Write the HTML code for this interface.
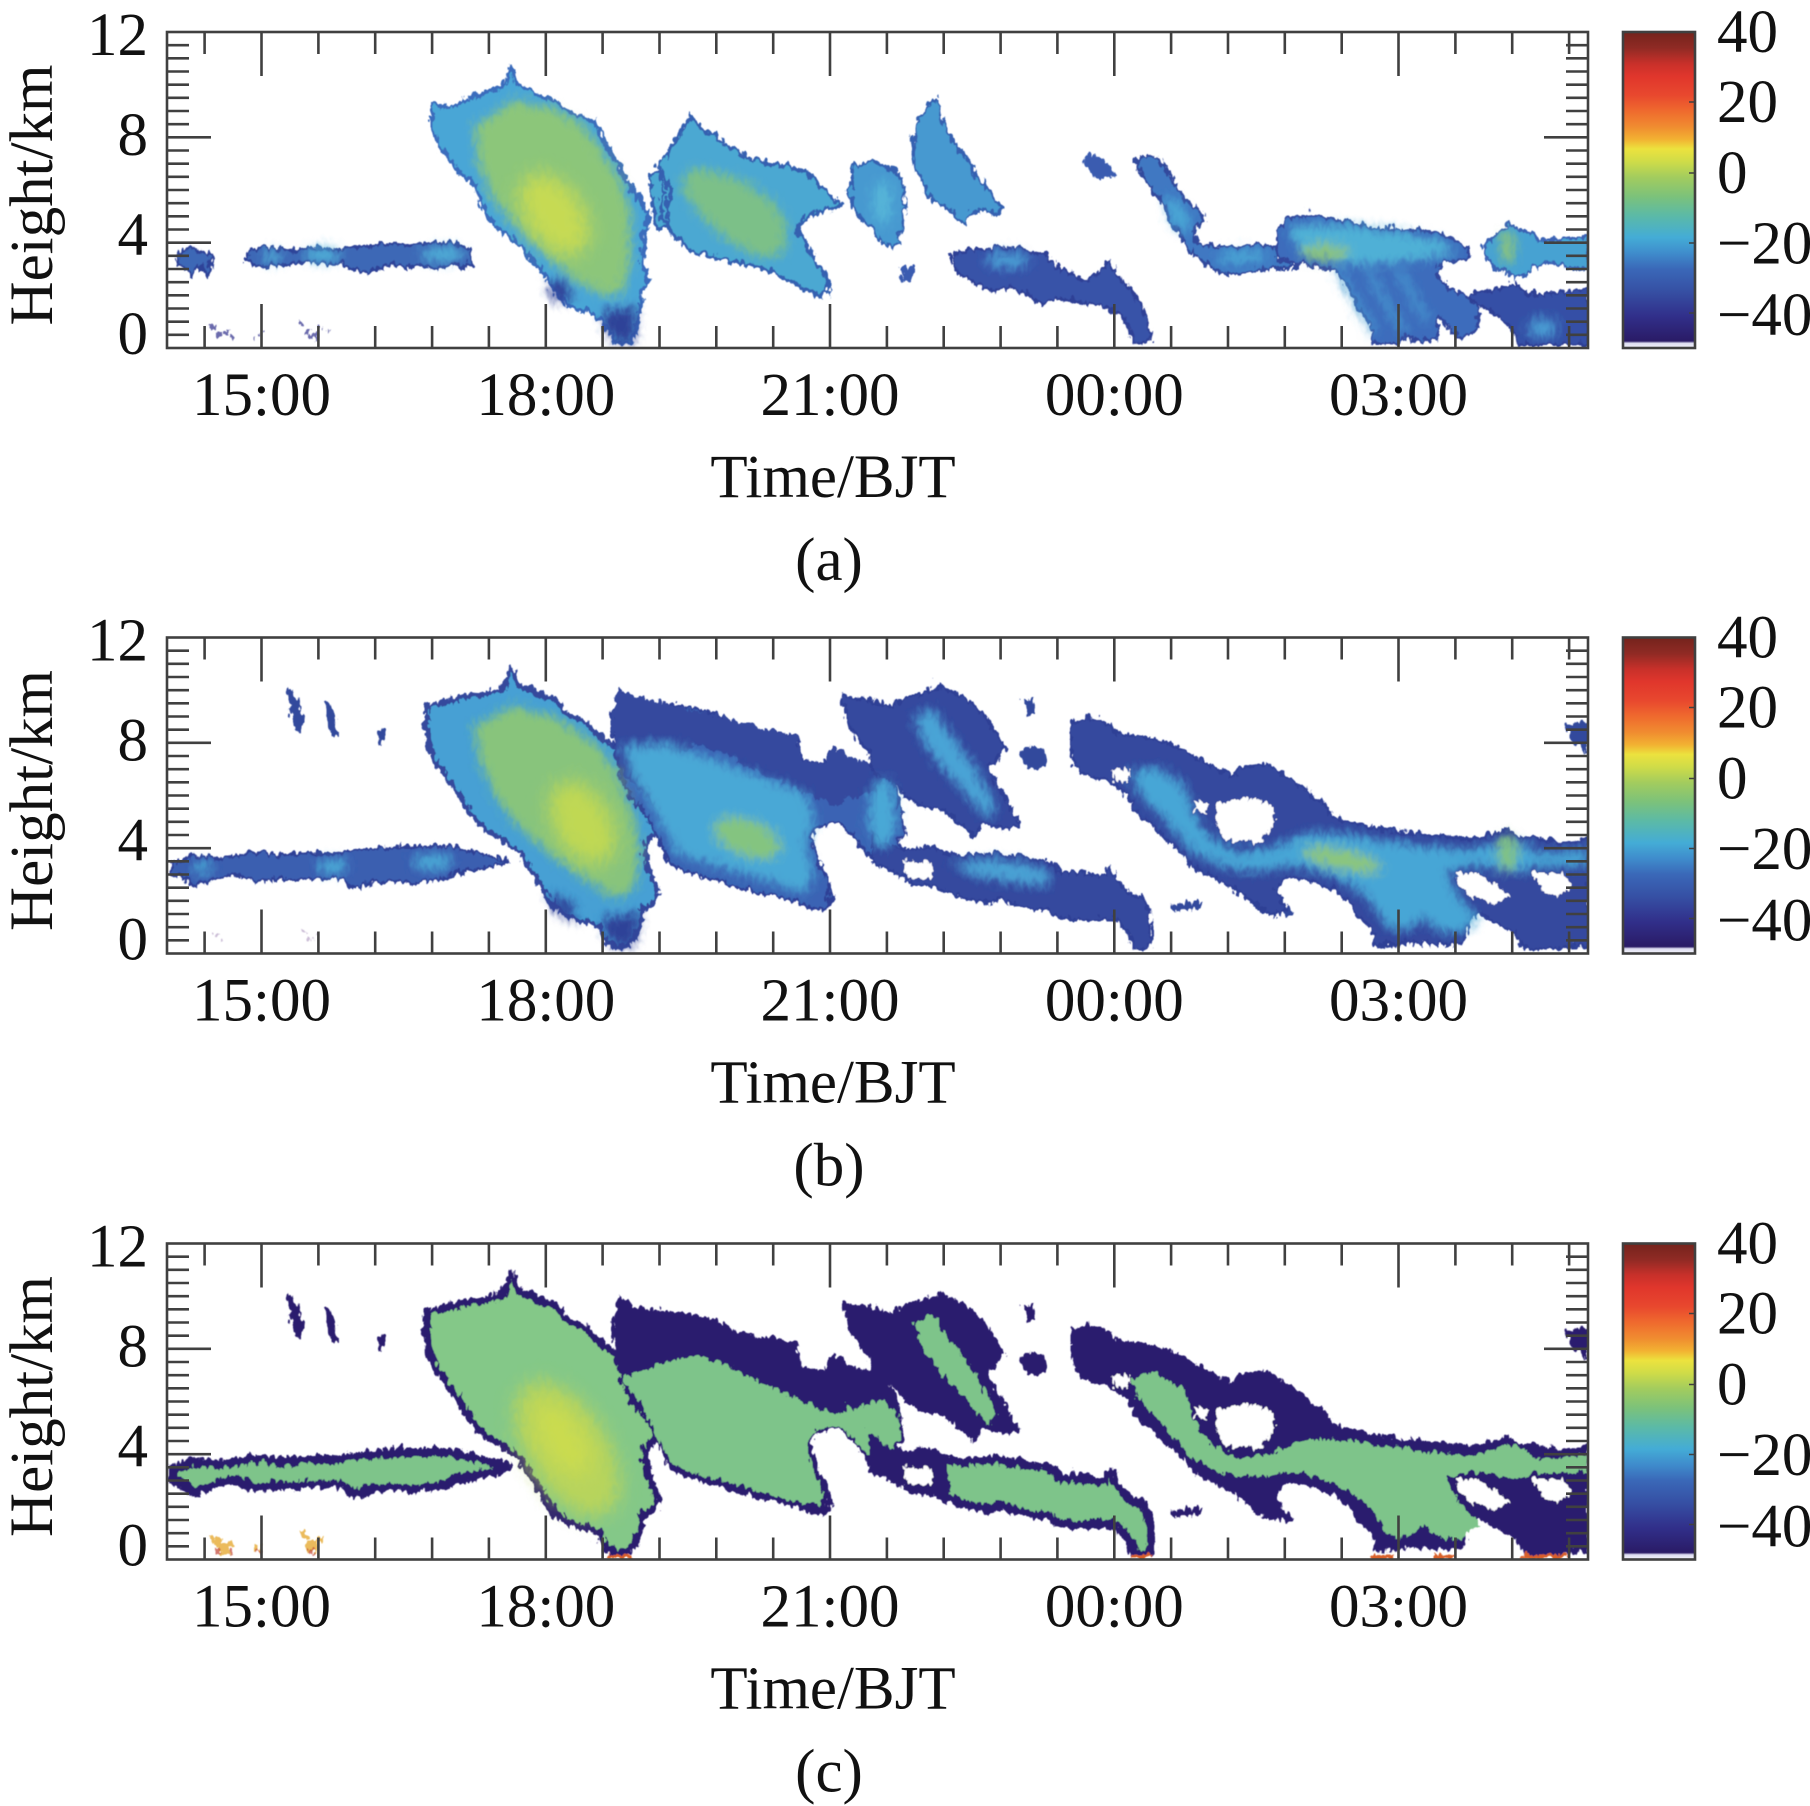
<!DOCTYPE html>
<html><head><meta charset="utf-8"><style>html,body{margin:0;padding:0;background:#fff}svg{display:block}</style></head>
<body>
<svg xmlns="http://www.w3.org/2000/svg" width="1810" height="1806" viewBox="0 0 1810 1806">
<defs>
<linearGradient id="cb" x1="0" y1="0" x2="0" y2="1">
<stop offset="0" stop-color="#74231c"/><stop offset="0.05" stop-color="#8f2a24"/><stop offset="0.1" stop-color="#c8302a"/>
<stop offset="0.14" stop-color="#e0362c"/><stop offset="0.2" stop-color="#e8482e"/><stop offset="0.25" stop-color="#ef6a2e"/>
<stop offset="0.3" stop-color="#f08c30"/><stop offset="0.34" stop-color="#f2b232"/><stop offset="0.37" stop-color="#ece23e"/>
<stop offset="0.41" stop-color="#cfdc48"/><stop offset="0.46" stop-color="#a2cc5e"/><stop offset="0.52" stop-color="#7cc27a"/>
<stop offset="0.58" stop-color="#5cbaa6"/><stop offset="0.65" stop-color="#44acd6"/><stop offset="0.7" stop-color="#3f8ccc"/>
<stop offset="0.75" stop-color="#3a68b8"/><stop offset="0.82" stop-color="#3650a4"/><stop offset="0.9" stop-color="#312f8a"/>
<stop offset="0.978" stop-color="#2a1b66"/><stop offset="0.985" stop-color="#dcdcf0"/><stop offset="1" stop-color="#f4f4fa"/>
</linearGradient>
<filter id="b1" x="-5%" y="-5%" width="110%" height="110%"><feGaussianBlur stdDeviation="1.1"/></filter>
<filter id="rag" x="-3%" y="-8%" width="106%" height="116%"><feTurbulence type="turbulence" baseFrequency="0.13 0.07" numOctaves="2" seed="4" result="t"/><feDisplacementMap in="SourceGraphic" in2="t" scale="10" xChannelSelector="R" yChannelSelector="G"/><feGaussianBlur stdDeviation="0.6"/></filter>
<filter id="b5" x="-40%" y="-40%" width="180%" height="180%"><feGaussianBlur stdDeviation="5"/></filter>
<filter id="b9" x="-50%" y="-50%" width="200%" height="200%"><feGaussianBlur stdDeviation="9"/></filter>
<clipPath id="clip"><rect x="168" y="33" width="1419" height="314"/></clipPath>

<g id="frame" fill="none" stroke="#404040" stroke-width="2.6">
<rect x="167" y="32" width="1421" height="316"/>
<path d="M204.6,32v22M318.4,32v22M375.2,32v22M432.1,32v22M488.9,32v22M602.6,32v22M659.5,32v22M716.3,32v22M773.2,32v22M886.9,32v22M943.7,32v22M1000.6,32v22M1057.4,32v22M1171.1,32v22M1228,32v22M1284.8,32v22M1341.7,32v22M1455.4,32v22M1512.2,32v22M1569.1,32v22M261.5,32v44M545.8,32v44M830,32v44M1114.3,32v44M1398.5,32v44"/>
<path d="M204.6,348v-22M318.4,348v-22M375.2,348v-22M432.1,348v-22M488.9,348v-22M602.6,348v-22M659.5,348v-22M716.3,348v-22M773.2,348v-22M886.9,348v-22M943.7,348v-22M1000.6,348v-22M1057.4,348v-22M1171.1,348v-22M1228,348v-22M1284.8,348v-22M1341.7,348v-22M1455.4,348v-22M1512.2,348v-22M1569.1,348v-22M261.5,348v-44M545.8,348v-44M830,348v-44M1114.3,348v-44M1398.5,348v-44"/>
<path d="M167,334.8h22M167,321.7h22M167,308.5h22M167,295.3h22M167,282.2h22M167,269h22M167,255.8h22M167,242.7h44M167,229.5h22M167,216.3h22M167,203.2h22M167,190h22M167,176.8h22M167,163.7h22M167,150.5h22M167,137.3h44M167,124.2h22M167,111h22M167,97.8h22M167,84.7h22M167,71.5h22M167,58.3h22M167,45.2h22"/>
<path d="M1588,334.8h-22M1588,321.7h-22M1588,308.5h-22M1588,295.3h-22M1588,282.2h-22M1588,269h-22M1588,255.8h-22M1588,242.7h-44M1588,229.5h-22M1588,216.3h-22M1588,203.2h-22M1588,190h-22M1588,176.8h-22M1588,163.7h-22M1588,150.5h-22M1588,137.3h-44M1588,124.2h-22M1588,111h-22M1588,97.8h-22M1588,84.7h-22M1588,71.5h-22M1588,58.3h-22M1588,45.2h-22"/>
<rect x="1623" y="32" width="72" height="316" fill="url(#cb)"/>
<path d="M1689,102h6M1689,173h6M1689,243h6M1689,313h6" stroke-width="1.5"/>
</g>

<path id="bLow" d="M169,255 L188,248 215,250 252,245 279,248 312,245 335,245 358,241 380,240 403,238 436,238 459,241 481,246 504,253 491,258 472,261 454,266 436,271 413,275 390,273 367,275 353,280 339,271 321,270 298,271 275,271 252,273 229,265 206,273 192,278 183,271 169,265Z"/>
<path id="bUp" d="M284,82 L290,80 296,95 302,110 300,125 292,122 288,100Z M322,97 L328,95 333,110 336,127 330,128 324,115Z M373,122 L382,120 384,135 376,136Z M1018,142 L1030,136 1042,145 1044,158 1030,162 1020,155Z M1021,92 L1029,90 1032,105 1024,108Z M1168,296 L1201,294 1200,301 1170,302Z M1247,290 L1265,288 1280,296 1292,305 1285,308 1265,302 1250,298Z M1565,118 L1575,113 1586,115 1586,148 1578,140 1568,130Z"/>
<path id="bMain" d="M424,98 L454,91 481,86 500,81 509,58 516,78 537,86 553,91 564,105 583,115 601,131 615,141 619,158 638,185 651,205 656,221 647,228 642,245 647,265 656,288 651,295 638,301 638,315 628,335 615,340 605,335 596,318 573,311 564,308 555,301 546,291 532,265 518,245 500,231 481,221 472,211 463,198 454,181 445,171 436,158 426,138 424,118Z"/>
<path id="b4a" d="M612,135 L610,108 619,83 633,93 665,96 693,100 720,110 743,121 771,123 794,128 798,151 821,155 830,141 849,151 880,161 888,171 898,198 902,225 893,245 880,255 863,245 849,225 835,215 812,218 808,231 817,255 826,275 830,291 821,301 803,298 785,291 757,285 711,271 688,265 670,258 661,245 654,225 642,205 628,188 617,165Z"/>
<path id="b4aDark" d="M610,108 L619,83 665,96 720,110 771,123 794,128 798,151 821,155 830,141 880,161 880,181 849,191 830,198 794,181 757,165 725,148 693,135 674,148 665,171 656,205 638,185 619,165 612,135Z"/>
<path id="b4b" d="M840,88 L858,91 880,96 888,98 907,90 939,78 950,83 962,91 976,101 989,118 1003,141 994,151 985,158 994,178 1008,198 1017,218 1003,221 980,215 971,228 962,218 939,201 921,198 902,188 888,171 870,165 867,145 849,121 842,101Z"/>
<path id="b4bS" d="M911,108 L930,101 948,125 971,158 994,198 985,211 962,185 939,158 921,135Z"/>
<path id="b6" d="M870,225 L888,238 907,241 930,238 944,245 962,248 985,246 1008,248 1031,251 1049,255 1058,265 1077,265 1100,268 1109,258 1113,271 1127,285 1141,291 1146,305 1150,325 1146,340 1132,340 1127,325 1113,311 1090,311 1072,311 1054,308 1045,301 1031,301 1008,295 994,291 985,295 966,291 948,285 930,278 911,275 893,265 879,258 870,255Z"/>
<path id="b7" d="M1068,115 L1086,110 1100,113 1113,125 1136,128 1155,131 1173,138 1191,148 1210,158 1228,168 1247,158 1265,156 1283,168 1302,181 1320,195 1329,208 1348,215 1375,221 1398,225 1421,226 1449,228 1467,231 1485,228 1504,221 1513,228 1531,231 1559,235 1586,231 1586,338 1559,340 1522,340 1513,325 1495,315 1476,305 1467,311 1462,331 1453,336 1421,336 1403,335 1375,338 1371,325 1357,308 1348,295 1338,285 1320,278 1302,271 1283,268 1274,281 1283,301 1274,308 1260,301 1242,288 1228,278 1210,268 1191,258 1182,245 1164,231 1150,218 1136,205 1127,191 1118,181 1104,171 1086,168 1072,158 1068,138Z"/>
<path id="b7c" d="M1127,165 L1155,158 1182,178 1191,205 1210,231 1237,245 1274,238 1302,225 1329,225 1375,231 1421,238 1467,241 1513,231 1536,245 1585,241 1585,258 1540,258 1513,265 1467,258 1444,265 1458,291 1476,311 1458,325 1439,325 1421,311 1398,325 1384,318 1366,291 1348,278 1320,265 1283,258 1247,265 1219,258 1191,245 1173,225 1155,205 1136,185Z"/>
<path id="bHoles" d="M1214,195 L1237,190 1265,195 1274,205 1265,225 1256,235 1233,236 1219,228 1212,211Z M1453,265 L1476,265 1495,278 1508,291 1490,295 1467,288 1458,278Z M1531,265 L1559,265 1568,278 1559,288 1540,285Z M900,252 L928,254 930,270 905,271Z M1191,192 L1204,194 1205,205 1193,204Z M1110,160 L1126,162 1125,174 1112,173Z"/>
</defs>

<g font-family="'Liberation Serif','Times New Roman',serif" fill="#111">
<!-- ============ PANEL A ============ -->
<g>
<g clip-path="url(#clip)">
<g filter="url(#rag)">
<g stroke-linejoin="round">
<path d="M174,252 L183,246 197,248 206,252 210,255 208,265 204,273 199,265 192,268 188,273 181,265 174,262Z M243,252 L252,247 270,246 289,249 298,248 312,245 330,246 337,247 353,245 371,243 390,240 408,242 426,240 445,241 459,243 468,247 469,263 459,265 445,263 431,265 417,262 403,265 390,262 376,265 362,272 353,267 339,260 325,262 312,258 298,260 279,262 266,264 252,262 243,258Z" fill="#3d68b6" stroke="#2f4398" stroke-width="3"/>
<path d="M429,103 L445,105 463,97 481,90 500,83 509,63 514,83 532,90 555,100 573,113 592,118 601,138 615,162 624,178 638,198 647,215 642,232 640,258 645,278 638,298 633,325 628,340 612,340 605,325 592,312 564,302 553,292 546,278 532,258 509,235 491,222 477,198 472,182 459,172 449,158 436,142 429,125Z" fill="#4aa6d6" stroke="#3a6cbc" stroke-width="4"/>
<path d="M656,165 L670,142 688,113 697,125 711,132 725,145 752,158 775,162 803,168 826,192 840,202 808,212 794,225 803,242 812,258 826,278 826,292 812,293 789,278 757,265 711,255 688,248 670,232 658,212 661,185Z M647,172 L660,168 667,185 665,225 656,225 650,205Z" fill="#4ca8d2" stroke="#3560b0" stroke-width="4"/>
<path d="M849,165 L865,160 880,162 895,170 902,190 900,230 893,245 880,240 870,225 858,215 849,200Z M909,152 L916,115 930,98 934,97 939,112 948,135 962,152 976,175 989,192 999,205 994,212 980,205 966,212 962,222 953,212 939,202 930,198 921,182 911,165Z" fill="#4799d0" stroke="#3560b0" stroke-width="3"/>
<path d="M897,265 L911,265 911,278 900,280Z M1081,155 L1092,150 1105,160 1113,172 1100,178 1088,172Z" fill="#3a5cb0"/>
<path d="M950,252 L962,248 985,247 1008,245 1045,252 1054,265 1068,272 1086,278 1100,265 1109,258 1113,272 1127,285 1136,298 1141,308 1146,318 1148,338 1132,340 1127,325 1118,312 1104,305 1090,302 1072,298 1054,295 1040,302 1026,292 1008,285 994,288 980,285 966,278 955,272 950,262Z" fill="#3752a8" stroke="#2f3f95" stroke-width="3"/>
<path d="M1134,158 L1146,152 1159,158 1169,175 1182,198 1201,212 1205,218 1191,225 1191,238 1210,245 1233,245 1251,242 1274,245 1274,258 1293,258 1293,265 1270,265 1251,268 1233,272 1214,268 1201,258 1191,252 1182,238 1173,225 1164,212 1159,198 1150,185 1141,175 1134,165Z" fill="#3f78c2" stroke="#33489c" stroke-width="3"/>
<path d="M1274,228 L1286,215 1311,213 1338,218 1366,225 1398,227 1426,228 1449,235 1465,247 1465,255 1439,260 1433,272 1449,288 1467,295 1476,308 1472,332 1458,335 1444,325 1435,312 1435,335 1421,340 1403,335 1394,340 1373,340 1368,325 1357,305 1348,288 1334,268 1320,265 1293,262 1276,252Z" fill="#3c6cbc" stroke="#33479c" stroke-width="3"/>
<path d="M1481,242 L1495,232 1506,222 1522,228 1536,238 1568,235 1586,235 1586,265 1568,265 1545,258 1527,268 1513,278 1504,268 1490,265 1483,255Z" fill="#47a2d2" stroke="#3a62b4" stroke-width="3"/>
<path d="M1467,292 L1490,288 1513,282 1527,292 1550,292 1577,288 1586,285 1586,342 1518,342 1508,325 1495,312 1481,305 1467,298Z" fill="#3450a6" stroke="#2f3f95" stroke-width="3"/>
<g fill="#3a3a92" opacity="0.75"><rect x="209" y="322" width="4" height="5"/><rect x="214" y="330" width="6" height="6"/><rect x="222" y="326" width="4" height="8"/><rect x="228" y="333" width="4" height="4"/><rect x="252" y="334" width="3" height="4"/><rect x="260" y="330" width="3" height="3"/><rect x="299" y="318" width="3" height="4"/><rect x="303" y="326" width="5" height="8"/><rect x="309" y="332" width="6" height="5"/><rect x="315" y="322" width="3" height="5"/><rect x="326" y="326" width="2" height="3"/></g>
</g>
<g filter="url(#b5)">
<path d="M472,125 L509,98 550,105 583,125 601,152 619,178 628,212 628,258 619,292 601,292 573,278 550,258 527,238 509,218 491,198 477,165Z" fill="#8cc67a"/>
<path d="M546,278 L564,278 569,298 555,300 548,292Z M601,308 L633,305 631,340 612,340 603,325Z" fill="#2f4298"/>
<path d="M688,165 L734,175 771,198 785,225 780,252 757,255 725,238 697,212 679,185Z" fill="#7cc088"/>
<ellipse cx="320" cy="252" rx="18" ry="7" fill="#4fb0d8"/><ellipse cx="440" cy="252" rx="22" ry="7" fill="#4fb0d8"/><ellipse cx="270" cy="255" rx="8" ry="6" fill="#4fb0d8"/>
<ellipse cx="1005" cy="258" rx="22" ry="8" fill="#4a9ed4"/>
<ellipse cx="1175" cy="212" rx="8" ry="20" transform="rotate(-30 1175 212)" fill="#4aa8d6"/><ellipse cx="1240" cy="255" rx="25" ry="6" fill="#4aa8d6"/>
<path d="M1285,222 L1340,222 1400,230 1440,238 1455,250 1420,258 1380,262 1340,262 1300,256Z" fill="#4fb0d6"/>
<ellipse cx="1322" cy="250" rx="24" ry="8" fill="#8cc47a"/>
<path d="M1335,268 L1372,330 M1365,268 L1402,330 M1395,268 L1425,318" stroke="#4aa0d4" stroke-width="6" fill="none"/>
<ellipse cx="1505" cy="245" rx="7" ry="16" fill="#8cc47a"/><ellipse cx="1540" cy="325" rx="15" ry="9" fill="#4a9ed4"/>
<ellipse cx="880" cy="200" rx="10" ry="22" fill="#55b4d8"/>
</g>
<ellipse cx="552" cy="212" rx="28" ry="45" transform="rotate(-35 552 212)" fill="#c6da52" filter="url(#b9)"/>
</g>
</g>
<use href="#frame"/>
<g font-size="61">
<text x="148" y="55" text-anchor="end">12</text><text x="148" y="155" text-anchor="end">8</text><text x="148" y="255" text-anchor="end">4</text><text x="148" y="354" text-anchor="end">0</text>
<text x="261.5" y="415" text-anchor="middle">15:00</text><text x="545.8" y="415" text-anchor="middle">18:00</text><text x="830" y="415" text-anchor="middle">21:00</text><text x="1114.3" y="415" text-anchor="middle">00:00</text><text x="1398.5" y="415" text-anchor="middle">03:00</text>
<text x="833" y="497" text-anchor="middle">Time/BJT</text>
<text x="829" y="580" text-anchor="middle">(a)</text>
<text transform="translate(52,195) rotate(-90)" text-anchor="middle">Height/km</text>
<text x="1717" y="52">40</text><text x="1717" y="122">20</text><text x="1717" y="193">0</text><text x="1717" y="263.5">−20</text><text x="1717" y="335">−40</text>
</g>
</g>

<!-- ============ PANEL B ============ -->
<g transform="translate(0,605.5)">
<g clip-path="url(#clip)">
<g filter="url(#rag)">
<g stroke-linejoin="round">
<use href="#bLow" fill="#3a5eb0" stroke="#2f3f95" stroke-width="3"/>
<use href="#bUp" fill="#33489c"/>
<use href="#bMain" fill="#46a0d4" stroke="#34489c" stroke-width="5"/>
<use href="#b4a" fill="#3a64b4" stroke="#2f4096" stroke-width="3"/>
<use href="#b4aDark" fill="#34499e"/>
<use href="#b4b" fill="#34499e" stroke="#2f3f95" stroke-width="3"/>
<use href="#b6" fill="#34499e" stroke="#2f3f95" stroke-width="3"/>
<use href="#b7" fill="#34499e" stroke="#2f3f95" stroke-width="3"/>
<g fill="#9a80b0" opacity="0.5"><rect x="212" y="325" width="3" height="4"/><rect x="218" y="333" width="3" height="3"/><rect x="300" y="320" width="3" height="4"/><rect x="306" y="330" width="4" height="5"/><rect x="313" y="326" width="3" height="3"/></g>
</g>
<g filter="url(#b5)">
<path d="M472,118 L509,98 550,108 592,135 615,165 628,198 638,238 633,278 615,291 592,278 564,258 537,238 509,211 491,185 477,151Z" fill="#88c47c"/>
<path d="M545,285 L570,295 575,315 555,305Z M600,310 L638,305 630,338 612,340 603,325Z" fill="#2f4298"/>
<path d="M619,138 L665,135 711,151 757,168 803,185 812,211 803,238 812,265 803,285 757,271 711,258 674,245 656,211 633,175Z" fill="#48a8d6"/>
<ellipse cx="745" cy="230" rx="35" ry="18" transform="rotate(20 745 230)" fill="#84c480"/>
<ellipse cx="880" cy="205" rx="14" ry="35" fill="#48a8d6"/>
<use href="#b4bS" fill="#48a4d6"/>
<path d="M948,255 L985,251 1022,255 1049,265 1045,278 1008,275 971,268Z" fill="#4aa2d4"/>
<use href="#b7c" fill="#46a6d6"/>
<ellipse cx="1340" cy="252" rx="40" ry="10" transform="rotate(12 1340 252)" fill="#8cc67c"/>
<ellipse cx="1505" cy="245" rx="10" ry="18" fill="#80c284"/>
<ellipse cx="330" cy="258" rx="15" ry="8" fill="#4aa8d6"/><ellipse cx="430" cy="254" rx="20" ry="8" fill="#4aa8d6"/><ellipse cx="200" cy="260" rx="10" ry="6" fill="#4aa8d6"/>
</g>
<ellipse cx="580" cy="215" rx="28" ry="45" transform="rotate(-30 580 215)" fill="#c0d852" filter="url(#b9)"/>
<use href="#bHoles" fill="#fff"/>
</g>
</g>
<use href="#frame"/>
<g font-size="61">
<text x="148" y="55" text-anchor="end">12</text><text x="148" y="155" text-anchor="end">8</text><text x="148" y="255" text-anchor="end">4</text><text x="148" y="354" text-anchor="end">0</text>
<text x="261.5" y="415" text-anchor="middle">15:00</text><text x="545.8" y="415" text-anchor="middle">18:00</text><text x="830" y="415" text-anchor="middle">21:00</text><text x="1114.3" y="415" text-anchor="middle">00:00</text><text x="1398.5" y="415" text-anchor="middle">03:00</text>
<text x="833" y="497" text-anchor="middle">Time/BJT</text>
<text x="829" y="580" text-anchor="middle">(b)</text>
<text transform="translate(52,195) rotate(-90)" text-anchor="middle">Height/km</text>
<text x="1717" y="52">40</text><text x="1717" y="122">20</text><text x="1717" y="193">0</text><text x="1717" y="263.5">−20</text><text x="1717" y="335">−40</text>
</g>
</g>

<!-- ============ PANEL C ============ -->
<g transform="translate(0,1211.5)">
<g clip-path="url(#clip)">
<g filter="url(#rag)">
<g stroke-linejoin="round">
<use href="#bLow" fill="#7ec48a" stroke="#2c1f6e" stroke-width="9"/>
<use href="#bUp" fill="#2c1f6e"/>
<use href="#bMain" fill="#84c888" stroke="#2c1f6e" stroke-width="7"/>
<use href="#b4a" fill="#2c1f6e"/>
<path d="M619,165 L656,150 693,140 725,152 757,168 794,185 830,200 849,195 880,185 895,200 898,225 885,245 863,240 849,222 835,212 812,215 803,232 810,255 820,278 818,292 803,290 757,278 711,264 688,258 670,250 660,235 652,215 638,192Z" fill="#7ec48a"/>
<use href="#b4b" fill="#2c1f6e"/>
<use href="#b4bS" fill="#7ec48a"/>
<use href="#b6" fill="#7ec48a" stroke="#2c1f6e" stroke-width="9"/>
<path d="M870,225 L907,241 930,238 944,245 948,285 930,278 911,275 893,265 879,258 870,255Z" fill="#2c1f6e"/>
<use href="#b7" fill="#2c1f6e"/>
<use href="#b7c" fill="#7ec48a"/>
<g fill="#d8602a"><rect x="605" y="340" width="23" height="5"/><rect x="1129" y="340" width="19" height="5"/><rect x="1370" y="340" width="21" height="5"/><rect x="1432" y="340" width="19" height="5"/><rect x="1520" y="340" width="46" height="5"/></g>
<g fill="#e8b040" opacity="0.85"><rect x="210" y="322" width="8" height="10"/><rect x="216" y="330" width="10" height="10"/><rect x="224" y="326" width="6" height="8"/><rect x="253" y="330" width="6" height="8"/><rect x="300" y="316" width="6" height="8"/><rect x="304" y="326" width="10" height="12"/><rect x="314" y="322" width="5" height="8"/></g>
<g fill="#c04030" opacity="0.7"><rect x="212" y="334" width="5" height="5"/><rect x="226" y="336" width="4" height="4"/><rect x="306" y="336" width="5" height="4"/><rect x="256" y="336" width="3" height="3"/></g>
</g>
<ellipse cx="565" cy="235" rx="40" ry="75" transform="rotate(-32 565 235)" fill="#b8d45c" filter="url(#b9)"/>
<ellipse cx="560" cy="225" rx="20" ry="40" transform="rotate(-32 560 225)" fill="#cadb50" filter="url(#b9)"/>
<use href="#bHoles" fill="#fff"/>
</g>
</g>
<use href="#frame"/>
<g font-size="61">
<text x="148" y="55" text-anchor="end">12</text><text x="148" y="155" text-anchor="end">8</text><text x="148" y="255" text-anchor="end">4</text><text x="148" y="354" text-anchor="end">0</text>
<text x="261.5" y="415" text-anchor="middle">15:00</text><text x="545.8" y="415" text-anchor="middle">18:00</text><text x="830" y="415" text-anchor="middle">21:00</text><text x="1114.3" y="415" text-anchor="middle">00:00</text><text x="1398.5" y="415" text-anchor="middle">03:00</text>
<text x="833" y="497" text-anchor="middle">Time/BJT</text>
<text x="829" y="580" text-anchor="middle">(c)</text>
<text transform="translate(52,195) rotate(-90)" text-anchor="middle">Height/km</text>
<text x="1717" y="52">40</text><text x="1717" y="122">20</text><text x="1717" y="193">0</text><text x="1717" y="263.5">−20</text><text x="1717" y="335">−40</text>
</g>
</g>
</g>
</svg>
</body></html>
